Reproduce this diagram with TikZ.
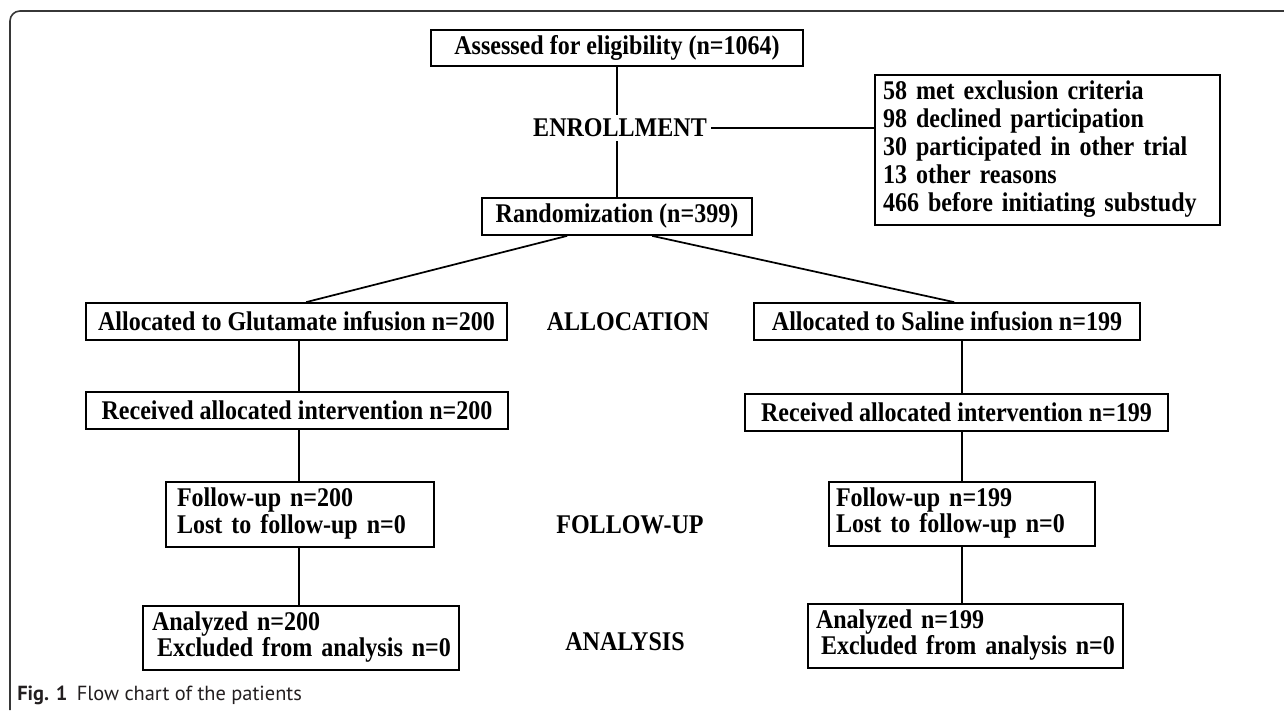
\documentclass[tikz,border=0pt]{standalone}
\usepackage{fontspec}
\setmainfont[FakeStretch=0.89]{Liberation Serif}
\newfontfamily\capfont{PT Sans}
\newcommand\linesleft[1]{\begin{tabular}{@{}l@{}}#1\end{tabular}}
\begin{document}
\begin{tikzpicture}[x=0.75pt,y=-0.75pt,
  box/.style={draw, line width=1.3pt, inner sep=0pt, align=center, font=\bfseries\fontsize{20.25}{21}\selectfont},
  mbox/.style={draw, line width=1.3pt, inner ysep=0pt, align=left, font=\bfseries\fontsize{20.25}{19.5}\selectfont},
  lbl/.style={inner sep=3pt, font=\bfseries\fontsize{20.25}{21}\selectfont},
  link/.style={line width=1.3pt},
  frame/.style={line width=1.2pt, draw={rgb,255:red,55;green,55;blue,55}}]
\useasboundingbox (0,0) rectangle (1284,710);
\draw[frame, rounded corners=7.5pt] (10,710) -- (10,11) -- (1284,11);

\node[box, minimum width=279pt, minimum height=27pt] (assess) at (617,48) {Assessed for eligibility (n=1064)};
\node[lbl] (enroll) at (620,128) {ENROLLMENT};
\node[mbox, text width=246.75pt, inner xsep=6pt, minimum height=112.5pt, font=\bfseries\fontsize{20.25}{21}\selectfont] (excl) at (1047.5,150) {\linesleft{58 met exclusion criteria\\98 declined participation\\30 participated in other trial\\13 other reasons\\466 before initiating substudy}};
\node[box, minimum width=202.5pt, minimum height=27.75pt] (rand) at (617,216.5) {Randomization (n=399)};

\node[box, minimum width=315.75pt, minimum height=27.75pt] (glu) at (296.5,321.5) {Allocated to Glutamate infusion n=200};
\node[lbl] (alloc) at (628,322) {ALLOCATION};
\node[box, minimum width=289.5pt, minimum height=27.75pt] (sal) at (947,321.5) {Allocated to Saline infusion n=199};

\node[box, minimum width=316.5pt, minimum height=27.75pt] (rec1) at (297,410.5) {Received allocated intervention n=200};
\node[box, minimum width=317.25pt, minimum height=27.75pt] (rec2) at (956.5,412.5) {Received allocated intervention n=199};

\node[mbox, text width=184.5pt, inner xsep=8.25pt, minimum height=48.75pt] (fu1) at (300,514.5) {\linesleft{Follow-up n=200\\Lost to follow-up n=0}};
\node[lbl] (fulbl) at (630,525) {FOLLOW-UP};
\node[mbox, text width=189pt, inner xsep=5.25pt, minimum height=48pt] (fu2) at (962,514) {\linesleft{Follow-up n=199\\Lost to follow-up n=0}};

\node[mbox, text width=223.5pt, inner xsep=6.75pt, minimum height=48pt] (an1) at (301,638) {\linesleft{Analyzed n=200\\\hspace*{3.75pt}Excluded from analysis n=0}};
\node[lbl] (anlbl) at (625,642) {ANALYSIS};
\node[mbox, text width=224.25pt, inner xsep=6pt, minimum height=48pt] (an2) at (965.5,636) {\linesleft{Analyzed n=199\\\hspace*{3.75pt}Excluded from analysis n=0}};

\node[anchor=west, inner sep=0pt, text={rgb,255:red,35;green,31;blue,32}, font=\capfont\fontsize{15.3}{17}\selectfont] (cap) at (17,695) {\textbf{Fig. 1}\hspace{7pt}Flow chart of the patients};

\coordinate (L) at (299,0);
\coordinate (R) at (962,0);

\draw[link] (assess.south) -- (assess.south |- enroll.north);
\draw[link] (assess.south |- enroll.south) -- (rand.north);
\draw[link] (enroll.east) -- (enroll.east -| excl.west);
\draw[link] ([xshift=64.5pt]rand.south west) -- ([xshift=165.75pt]glu.north west);
\draw[link] ([xshift=128.25pt]rand.south west) -- ([xshift=150.75pt]sal.north west);
\draw[link] (glu.south -| L) -- (rec1.north -| L);
\draw[link] (rec1.south -| L) -- (fu1.north -| L);
\draw[link] (fu1.south -| L) -- (an1.north -| L);
\draw[link] (sal.south -| R) -- (rec2.north -| R);
\draw[link] (rec2.south -| R) -- (fu2.north -| R);
\draw[link] (fu2.south -| R) -- (an2.north -| R);
\end{tikzpicture}
\end{document}
